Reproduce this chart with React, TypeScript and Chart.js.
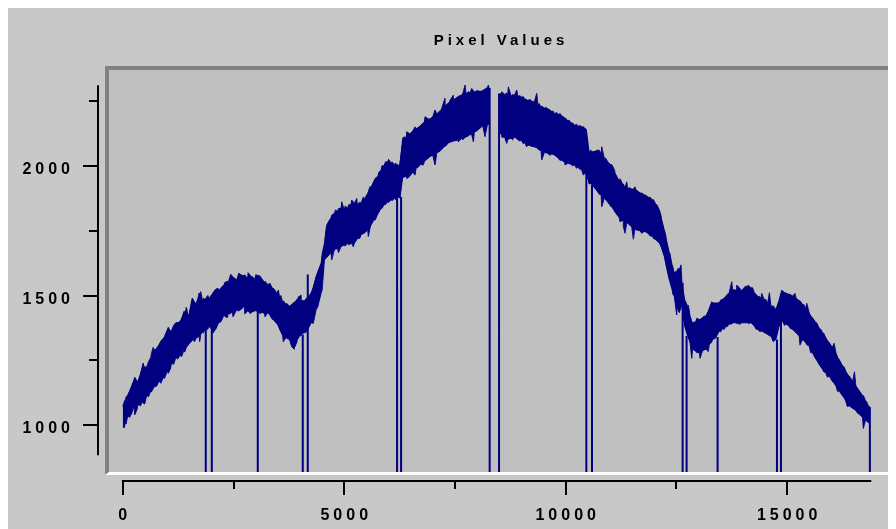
import { useEffect, useRef } from "react";
import { Chart, registerables } from "chart.js";

Chart.register(...registerables);

const chartTitle = "Pixel Values";

// sample index (x), upper / lower envelope of the noisy pixel trace
const sampleIndex = [
  0, 60, 110, 256, 340, 445, 540, 632, 720, 821, 915, 1009, 1100, 1197, 1290, 1386, 1480, 1573, 1650, 1724,
  1800, 1851, 1940, 2063, 2170, 2288, 2380, 2476, 2570, 2663, 2747, 2820, 2898, 2980, 3124, 3200, 3273, 3370,
  3462, 3540, 3611, 3690, 3762, 3875, 3940, 3988, 4030, 4120, 4252, 4365, 4478, 4553, 4627, 4700, 4778, 4850,
  4929, 5000, 5078, 5150, 5230, 5300, 5381, 5450, 5530, 5600, 5681, 5760, 5832, 5900, 5981, 6060, 6132, 6240,
  6320, 6400, 6471, 6550, 6622, 6720, 6809, 6900, 6997, 7090, 7186, 7280, 7374, 7470, 7561, 7650, 7750, 7840,
  7938, 8030, 8125, 8238, 8283, 8390, 8495, 8541, 8620, 8690, 8770, 8841, 8920, 8992, 9070, 9141, 9220, 9292,
  9370, 9443, 9520, 9592, 9670, 9743, 9820, 9895, 9970, 10044, 10120, 10195, 10270, 10346, 10436, 10466, 10530,
  10608, 10721, 10800, 10872, 10950, 11023, 11120, 11210, 11300, 11398, 11490, 11587, 11680, 11775, 11870, 11962,
  12040, 12113, 12170, 12226, 12280, 12339, 12400, 12452, 12510, 12565, 12625, 12690, 12752, 12810, 12865, 12940,
  13016, 13090, 13167, 13240, 13316, 13467, 13540, 13618, 13690, 13768, 13860, 13957, 14030, 14106, 14183, 14260,
  14332, 14410, 14483, 14560, 14634, 14747, 14815, 14896, 14970, 15047, 15120, 15198, 15270, 15347, 15420, 15498,
  15570, 15650, 15720, 15799, 15870, 15950, 16020, 16101, 16170, 16250, 16320, 16401, 16480, 16552, 16630, 16702,
  16770, 16830, 16868,
];

const upperValues = [
  1072, 1100, 1116, 1178, 1170, 1230, 1225, 1261, 1290, 1312, 1335, 1370, 1365, 1395, 1400, 1440, 1420, 1490, 1470, 1510,
  1480, 1485, 1490, 1517, 1520, 1542, 1550, 1574, 1560, 1581, 1577, 1565, 1574, 1560, 1568, 1550, 1542, 1530,
  1510, 1495, 1472, 1465, 1459, 1472, 1480, 1497, 1480, 1480, 1510, 1574, 1625, 1702, 1779, 1800, 1817, 1825,
  1837, 1830, 1837, 1850, 1856, 1850, 1856, 1870, 1894, 1915, 1945, 1960, 1984, 2000, 2015, 2010, 2003, 2000,
  2105, 2110, 2124, 2135, 2144, 2155, 2169, 2180, 2188, 2200, 2214, 2230, 2246, 2255, 2265, 2272, 2278, 2282,
  2284, 2288, 2290, 2303, 2290, null, 2275, 2278, 2275, 2271, 2268, 2271, 2268, 2265, 2258, 2252, 2250, 2246,
  2235, 2226, 2222, 2220, 2210, 2201, 2198, 2195, 2185, 2175, 2165, 2156, 2152, 2150, 2144, 2140, 2050,
  2054, 2060, 2045, 2028, 2015, 2003, 1970, 1940, 1925, 1913, 1910, 1907, 1895, 1888, 1878, 1868,
  1850, 1830, 1790, 1753, 1710, 1664, 1620, 1587, 1590, 1600, 1549, 1480, 1459, 1420, 1395, 1400,
  1408, 1415, 1421, 1450, 1472, 1472, 1485, 1497, 1510, 1523, 1520, 1517, 1530, 1536, 1530, 1510,
  1497, 1490, 1485, 1470, 1459, 1446, 1480, 1517, 1510, 1504, 1498, 1491, 1480, 1466, 1450, 1434,
  1415, 1395, 1375, 1357, 1338, 1319, 1300, 1280, 1255, 1229, 1210, 1190, 1170, 1152, 1133, 1114,
  1095, 1075, 1070,
];

const lowerValues = [
  995, 1010, 1037, 1075, 1080, 1094, 1115, 1133, 1150, 1171, 1185, 1210, 1240, 1261, 1270, 1293, 1310, 1331, 1335, 1344,
  1360, 1370, 1380, 1363, 1395, 1427, 1430, 1440, 1445, 1446, 1459, 1440, 1434, 1440, 1434, 1430, 1434, 1410,
  1395, 1370, 1344, 1340, 1331, 1299, 1330, 1344, 1350, 1360, 1395, 1446, 1510, 1638, 1651, 1665, 1677, 1680,
  1689, 1695, 1702, 1700, 1702, 1720, 1734, 1740, 1753, 1770, 1795, 1815, 1837, 1850, 1862, 1870, 1875, 1880,
  1958, 1960, 1958, 1975, 1990, 2005, 2015, 2030, 2041, 2050, 2060, 2075, 2092, 2095, 2099, 2105, 2111, 2120,
  2130, 2140, 2156, 2163, 2160, null, 2125, 2124, 2110, 2099, 2105, 2111, 2100, 2099, 2090, 2079, 2075, 2073,
  2065, 2060, 2052, 2048, 2045, 2041, 2030, 2022, 2015, 2009, 2005, 2003, 1995, 1990, 1971, 1970, 1930,
  1926, 1900, 1888, 1875, 1860, 1843, 1820, 1800, 1790, 1779, 1765, 1753, 1750, 1747, 1738, 1728,
  1715, 1702, 1680, 1651, 1605, 1561, 1525, 1497, 1465, 1434, 1459, 1380, 1344, 1315, 1293, 1285,
  1280, 1287, 1293, 1310, 1331, 1363, 1372, 1382, 1390, 1395, 1395, 1395, 1395, 1395, 1395, 1382,
  1370, 1362, 1357, 1350, 1344, 1331, 1380, 1401, 1390, 1382, 1370, 1357, 1345, 1331, 1318, 1306,
  1280, 1254, 1235, 1216, 1203, 1190, 1170, 1152, 1133, 1114, 1095, 1075, 1065, 1056, 1043, 1031,
  1020, 1012, 1005,
];

// noise excursions: sample index, local high, local low
const noiseIndex = [
  30, 75, 150, 200, 269, 320, 400, 456, 494, 580, 644, 682, 760, 860, 940, 1027, 1080, 1150, 1240, 1330, 1397, 1434,
  1500, 1563, 1620, 1690, 1736, 1759, 1820, 1920, 1960, 2037, 2100, 2150, 2220, 2300, 2360, 2436, 2488, 2540, 2617,
  2690, 2752, 2827, 2880, 2950, 3000, 3100, 3160, 3211, 3324, 3420, 3512, 3570, 3624, 3700, 3813, 3873, 3930, 3963,
  4024, 4120, 4210, 4302, 4400, 4500, 4600, 4717, 4800, 4870, 4942, 5020, 5100, 5168, 5205, 5281, 5350, 5430, 5543,
  5582, 5695, 5780, 5850, 5930, 6000, 6080, 6150, 6260, 6330, 6410, 6500, 6598, 6673, 6785, 6824, 6930, 7050, 7150,
  7275, 7380, 7463, 7576, 7680, 7727, 7800, 7878, 7915, 8000, 8104, 8178, 8253, 8560, 8669, 8705, 8800, 8894, 8970,
  9044, 9120, 9200, 9346, 9400, 9459, 9550, 9650, 9720, 9800, 9880, 9985, 10080, 10160, 10249, 10330, 10400, 10560,
  10650, 10760, 10814, 10900, 11039, 11100, 11227, 11302, 11340, 11378, 11450, 11528, 11565, 11650, 11716, 11820,
  11900, 11979, 12060, 12150, 12250, 12350, 12420, 12507, 12540, 12604, 12700, 12769, 12846, 12959, 13033, 13120,
  13221, 13297, 13380, 13500, 13580, 13650, 13749, 13862, 13950, 14050, 14124, 14220, 14300, 14388, 14426, 14520,
  14600, 14689, 14878, 14940, 15066, 15178, 15291, 15380, 15443, 15530, 15668, 15760, 15830, 15910, 16060, 16140,
  16290, 16360, 16520, 16600, 16721, 16800,
];
const noiseHigh = [
  1090, 1110, 1130, 1150, 1185, 1170, 1195, 1240, 1215, 1245, 1275, 1300, 1290, 1325, 1340, 1378, 1360, 1385, 1395, 1410, 1420, 1455,
  1430, 1488, 1465, 1480, 1500, 1515, 1490, 1500, 1480, 1510, 1525, 1528, 1530, 1550, 1555, 1582, 1570, 1565, 1586,
  1575, 1580, 1588, 1578, 1570, 1580, 1575, 1560, 1555, 1547, 1525, 1521, 1500, 1480, 1470, 1465, 1475, 1485, 1495,
  1502, 1485, 1500, 1530, 1590, 1660, 1770, 1810, 1830, 1835, 1861, 1845, 1850, 1868, 1860, 1874, 1860, 1880, 1900,
  1920, 1951, 1975, 2000, 2015, 2025, 2015, 2010, 2005, 2110, 2131, 2125, 2150, 2144, 2165, 2189, 2180, 2215, 2210,
  2260, 2250, 2272, 2268, 2280, 2311, 2285, 2298, 2290, 2290, 2285, 2295, 2311, 2285, 2280, 2304, 2275, 2292, 2270,
  2266, 2255, 2255, 2279, 2240, 2230, 2225, 2215, 2210, 2205, 2200, 2185, 2175, 2165, 2160, 2155, 2150, 2060,
  2055, 2060, 2073, 2030, 2005, 1985, 1950, 1930, 1915, 1938, 1915, 1910, 1919, 1900, 1895, 1885,
  1880, 1870, 1850, 1810, 1740, 1665, 1610, 1595, 1605, 1618, 1480, 1463, 1400, 1412, 1405, 1420,
  1440, 1476, 1470, 1483, 1490, 1505, 1553, 1540, 1525, 1535, 1540, 1530, 1505, 1495, 1508, 1485,
  1511, 1460, 1521, 1510, 1505, 1508, 1480, 1465, 1470, 1420, 1395, 1370, 1354, 1325, 1316, 1260,
  1225, 1195, 1206, 1140, 1115, 1090,
];
const noiseLow = [
  990, 1005, 1030, 1045, 1040, 1060, 1075, 1085, 1082, 1110, 1128, 1140, 1150, 1162, 1180, 1200, 1220, 1235, 1255, 1265, 1282, 1300,
  1315, 1325, 1322, 1338, 1322, 1350, 1355, 1370, 1385, 1355, 1370, 1390, 1400, 1420, 1415, 1430, 1418, 1435, 1440,
  1450, 1429, 1440, 1430, 1440, 1445, 1430, 1440, 1418, 1425, 1405, 1385, 1360, 1322, 1335, 1303, 1293, 1320, 1335,
  1345, 1355, 1380, 1393, 1455, 1520, 1645, 1637, 1680, 1665, 1690, 1690, 1695, 1700, 1688, 1715, 1720, 1740, 1727,
  1760, 1790, 1820, 1835, 1850, 1858, 1865, 1870, 1875, 1955, 1951, 1965, 1964, 1995, 2003, 2020, 2035, 2003, 2055,
  2080, 2090, 2095, 2092, 2100, 2110, 2115, 2120, 2092, 2135, 2150, 2112, 2160, 2110, 2086, 2110, 2100, 2105, 2095,
  2085, 2073, 2080, 2070, 2060, 2022, 2050, 2040, 2045, 2035, 2020, 2003, 2010, 2000, 1990, 1985, 1964, 1935,
  1915, 1890, 1842, 1870, 1861, 1825, 1784, 1765, 1740, 1780, 1770, 1717, 1760, 1750, 1740, 1745,
  1730, 1720, 1710, 1690, 1630, 1555, 1505, 1425, 1440, 1460, 1375, 1340, 1258, 1280, 1258, 1290,
  1284, 1320, 1335, 1360, 1370, 1380, 1390, 1392, 1390, 1395, 1392, 1390, 1370, 1361, 1365, 1355,
  1345, 1322, 1400, 1385, 1374, 1360, 1309, 1325, 1310, 1280, 1252, 1225, 1205, 1185, 1162, 1130,
  1105, 1072, 1062, 1045, 988, 1015,
];

// sample positions where the trace drops to zero, and the level it falls from
const dropoutIndex = [1873, 2009, 3047, 4063, 4176, 6193, 6283, 8283, 8495, 10466, 10594, 12640, 12730, 13430, 14770, 14860, 16868];
const dropoutFrom = [1370, 1370, 1440, 1350, 1581, 1875, 1880, 2300, 2278, 1970, 1926, 1549, 1344, 1340, 1331, 1401, 1070];
const dropoutTo = 0;

const xMajorTicks = [0, 5000, 10000, 15000];
const xMinorTicks = [2500, 7500, 12500];
const xAxisSpan = [0, 16900];
const yMajorTicks = [1000, 1500, 2000];
const yMinorTicks = [1250, 1750, 2250];
const yAxisSpan = [885, 2310];

const NAVY = "#000080";
const OUTER_BG = "#c8c8c8";
const PLOT_BG = "#c0c0c0";
const FRAME_DARK = "#808080";
const LABEL_FONT = 'bold 16px "Liberation Sans", Arial, sans-serif';
const TITLE_FONT = 'bold 15px "Liberation Sans", Arial, sans-serif';

const framePlugin = {
  id: "pixelFrame",
  beforeDraw(chart: any) {
    const { ctx, chartArea: a, width, height } = chart;
    ctx.save();
    ctx.fillStyle = OUTER_BG;
    ctx.fillRect(0, 0, width, height);
    ctx.fillStyle = PLOT_BG;
    ctx.fillRect(a.left, a.top, a.right - a.left, a.bottom - a.top);
    ctx.restore();
  },
  afterDraw(chart: any) {
    const { ctx, chartArea: a, scales } = chart;
    const xs = scales.x;
    const ys = scales.y;
    ctx.save();
    const poly = (pts: number[][], color: string) => {
      ctx.beginPath();
      ctx.moveTo(pts[0][0], pts[0][1]);
      for (let i = 1; i < pts.length; i++) ctx.lineTo(pts[i][0], pts[i][1]);
      ctx.closePath();
      ctx.fillStyle = color;
      ctx.fill();
    };
    const L = a.left, T = a.top, R = a.right, B = a.bottom;
    poly([[L - 4, T - 4], [R + 3, T - 4], [R, T], [L, T]], FRAME_DARK);
    poly([[L - 4, T - 4], [L, T], [L, B], [L - 4, B + 3]], FRAME_DARK);
    poly([[L - 4, B + 3], [L, B], [R, B], [R + 3, B + 3]], "#ffffff");
    poly([[R + 3, T - 4], [R + 3, B + 3], [R, B], [R, T]], "#ffffff");

    ctx.strokeStyle = "#000000";
    ctx.lineWidth = 2;
    ctx.lineCap = "butt";

    const yAxisX = L - 11;
    ctx.beginPath();
    ctx.moveTo(yAxisX, ys.getPixelForValue(yAxisSpan[1]));
    ctx.lineTo(yAxisX, ys.getPixelForValue(yAxisSpan[0]));
    ctx.stroke();
    for (const v of yMajorTicks) {
      const y = Math.round(ys.getPixelForValue(v));
      ctx.beginPath();
      ctx.moveTo(yAxisX - 15, y);
      ctx.lineTo(yAxisX, y);
      ctx.stroke();
    }
    for (const v of yMinorTicks) {
      const y = Math.round(ys.getPixelForValue(v));
      ctx.beginPath();
      ctx.moveTo(yAxisX - 9, y);
      ctx.lineTo(yAxisX, y);
      ctx.stroke();
    }

    const xAxisY = B + 9;
    ctx.beginPath();
    ctx.moveTo(xs.getPixelForValue(xAxisSpan[0]) - 1, xAxisY);
    ctx.lineTo(xs.getPixelForValue(xAxisSpan[1]), xAxisY);
    ctx.stroke();
    for (const v of xMajorTicks) {
      const x = Math.round(xs.getPixelForValue(v));
      ctx.beginPath();
      ctx.moveTo(x, xAxisY);
      ctx.lineTo(x, xAxisY + 14);
      ctx.stroke();
    }
    for (const v of xMinorTicks) {
      const x = Math.round(xs.getPixelForValue(v));
      ctx.beginPath();
      ctx.moveTo(x, xAxisY);
      ctx.lineTo(x, xAxisY + 8);
      ctx.stroke();
    }

    const ls = 4;
    ctx.fillStyle = "#000000";
    ctx.font = LABEL_FONT;
    (ctx as any).letterSpacing = ls + "px";
    ctx.textBaseline = "alphabetic";
    ctx.textAlign = "right";
    for (const v of yMajorTicks) {
      const y = ys.getPixelForValue(v);
      ctx.fillText(String(v), yAxisX - 28 + ls, y + 8);
    }
    ctx.textAlign = "center";
    for (const v of xMajorTicks) {
      const x = xs.getPixelForValue(v);
      ctx.fillText(String(v), x + ls / 2, xAxisY + 39);
    }

    ctx.font = TITLE_FONT;
    (ctx as any).letterSpacing = "4px";
    ctx.fillText(chartTitle, (L + R) / 2 + 2, 37);
    ctx.restore();
  },
};

export default function App() {
  const ref = useRef<HTMLCanvasElement | null>(null);
  useEffect(() => {
    if (!ref.current) return;
    // merge the envelope readings and the noise readings into one ordered table
    const rows: { x: number; hi: number | null; lo: number | null }[] = [];
    sampleIndex.forEach((x, i) => rows.push({ x, hi: upperValues[i], lo: lowerValues[i] }));
    noiseIndex.forEach((x, i) => rows.push({ x, hi: noiseHigh[i], lo: noiseLow[i] }));
    rows.sort((a, b) => a.x - b.x);
    const noisyUpper = rows.map((r) => ({ x: r.x, y: r.hi }));
    const noisyLower = rows.map((r) => ({ x: r.x, y: r.lo }));
    const coreUpper = sampleIndex.map((x, i) => ({ x, y: upperValues[i] }));
    const coreLower = sampleIndex.map((x, i) => ({ x, y: lowerValues[i] }));
    const drops: any[] = [];
    dropoutIndex.forEach((x, i) => {
      drops.push({ x, y: dropoutFrom[i] });
      drops.push({ x, y: dropoutTo });
      drops.push({ x, y: null });
    });
    const band = { showLine: true, borderColor: NAVY, backgroundColor: NAVY, pointRadius: 0, spanGaps: false, tension: 0.0001 };
    const chart = new Chart(ref.current, {
      type: "scatter",
      data: {
        datasets: [
          { ...band, data: noisyUpper as any, borderWidth: 1, fill: "+1" },
          { ...band, data: noisyLower as any, borderWidth: 1, fill: false },
          { ...band, data: coreUpper as any, borderWidth: 0, fill: "+1" },
          { ...band, data: coreLower as any, borderWidth: 0, fill: false },
          {
            data: drops,
            showLine: true,
            borderColor: NAVY,
            backgroundColor: NAVY,
            pointRadius: 0,
            spanGaps: false,
            borderWidth: 2,
            fill: false,
          },
        ],
      },
      options: {
        responsive: false,
        maintainAspectRatio: false,
        devicePixelRatio: 1,
        animation: false,
        events: [],
        layout: { padding: { left: 101, top: 62, right: 7, bottom: 57 } },
        scales: {
          x: { type: "linear", display: false, min: -312, max: 17300 },
          y: { type: "linear", display: false, min: 820, max: 2369 },
        },
        plugins: { legend: { display: false }, tooltip: { enabled: false }, title: { display: false } },
      },
      plugins: [framePlugin],
    });
    return () => chart.destroy();
  }, []);
  return <canvas ref={ref} width={888} height={521} style={{ display: "block" }} />;
}
